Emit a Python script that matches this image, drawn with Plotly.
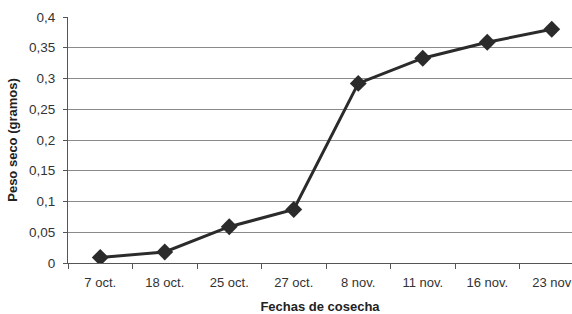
import plotly.graph_objects as go

fechas = ["7 oct.", "18 oct.", "25 oct.", "27 oct.", "8 nov.", "11 nov.", "16 nov.", "23 nov"]
peso_seco = [0.009, 0.018, 0.059, 0.087, 0.292, 0.333, 0.359, 0.380]

fig = go.Figure()
fig.add_trace(go.Scatter(
    x=fechas, y=peso_seco, mode="lines+markers",
    line=dict(color="#2b2b2b", width=3),
    marker=dict(symbol="diamond", size=13, color="#2b2b2b"),
    showlegend=False,
    hoverinfo="skip",
))

font_family = "Liberation Sans, Arial, sans-serif"
fig.update_layout(
    width=572, height=314,
    margin=dict(l=68, r=0, t=17, b=51),
    paper_bgcolor="white", plot_bgcolor="white",
    separators=",.",
    font=dict(family=font_family, size=13, color="#333333"),
    xaxis=dict(
        type="category",
        range=[-0.5, -0.5 + (572 - 68) / 64.5],
        tickson="boundaries",
        ticks="outside", ticklen=5, tickcolor="#555555",
        showline=True, linecolor="#555555", linewidth=1,
        showgrid=False,
        automargin=False,
        ticklabelstandoff=7,
        tickfont=dict(size=13, color="#333333"),
        title=dict(text="<b>Fechas de cosecha</b>", font=dict(size=13, color="#222222"), standoff=14),
    ),
    yaxis=dict(
        range=[0, 0.4],
        dtick=0.05,
        ticks="outside", ticklen=4, tickcolor="#555555",
        showline=True, linecolor="#555555", linewidth=1,
        showgrid=True, gridcolor="#8a8a8a", gridwidth=1,
        zeroline=False,
        automargin=False,
        ticklabelstandoff=5,
        tickfont=dict(size=13.5, color="#333333"),
        title=dict(text="<b>Peso seco (gramos)</b>", font=dict(size=13, color="#222222"), standoff=8),
    ),
)

fig.write_html(
    "out.html",
    config={"displayModeBar": False},
    post_script="document.body.style.margin='0';document.body.style.overflow='hidden';",
)
